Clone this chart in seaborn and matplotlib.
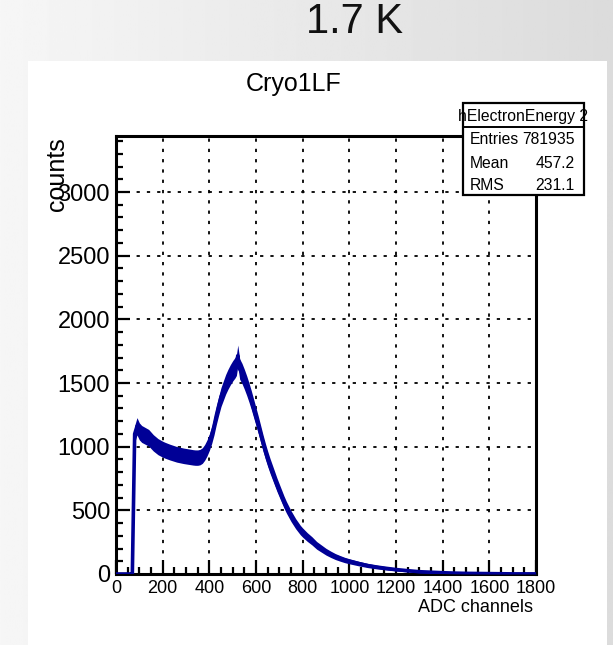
import numpy as np
import pandas as pd
import matplotlib
matplotlib.use("Agg")
import matplotlib.pyplot as plt
import matplotlib.patches as mpatches
from matplotlib.ticker import MultipleLocator
import seaborn as sns

# ADC spectrum of hElectronEnergy (Cryo1LF, 1.7 K)
adc = [0, 60, 70, 80, 90, 100, 110, 120, 130, 140, 150, 160, 170, 180, 190,
       200, 210, 220, 230, 240, 250, 260, 270, 280, 290, 300, 310, 320, 330,
       340, 350, 360, 370, 380, 390, 400, 410, 420, 430, 440, 450, 460, 470,
       480, 490, 500, 510, 516, 522, 530, 540, 550, 560, 570, 580, 590, 600,
       610, 620, 630, 640, 650, 660, 670, 680, 690, 700, 710, 720, 730, 740,
       750, 760, 770, 780, 790, 800, 820, 840, 860, 880, 900, 920, 940, 960,
       980, 1000, 1040, 1080, 1120, 1160, 1200, 1250, 1300, 1350, 1400, 1450,
       1500, 1550, 1600, 1650, 1700, 1750, 1800]
counts = [0, 0, 0, 1100, 1160, 1120, 1100, 1090, 1080, 1070, 1050, 1030, 1015,
          1000, 990, 980, 972, 965, 958, 952, 946, 940, 936, 932, 928, 925,
          922, 919, 916, 914, 914, 918, 930, 955, 990, 1035, 1090, 1160, 1245,
          1320, 1390, 1440, 1490, 1530, 1565, 1595, 1620, 1640, 1715, 1610,
          1575, 1530, 1480, 1425, 1365, 1300, 1235, 1170, 1100, 1030, 965, 905,
          850, 800, 750, 700, 655, 610, 565, 525, 490, 455, 425, 395, 370, 345,
          325, 290, 260, 225, 200, 175, 155, 137, 123, 110, 100, 82, 66, 54, 44,
          35, 26, 18, 14, 10, 7, 5, 4, 3, 2, 1, 1, 1]

x_ticks = [0, 200, 400, 600, 800, 1000, 1200, 1400, 1600, 1800]
y_ticks = [0, 500, 1000, 1500, 2000, 2500, 3000]

stats_name = "hElectronEnergy 2"
stats_rows = [("Entries", "781935"), ("Mean", "457.2"), ("RMS", "231.1")]

sns.set_style("white")
plt.rcParams["font.family"] = ["Liberation Sans", "DejaVu Sans"]
plt.rcParams["text.color"] = "black"
plt.rcParams["xtick.color"] = "black"
plt.rcParams["ytick.color"] = "black"

W, H = 613, 645
fig = plt.figure(figsize=(W / 100, H / 100), dpi=100)


def fx(px):
    return px / W


def fy(py):
    return 1 - py / H


# grey gradient backdrop
bg = fig.add_axes([0, 0, 1, 1], zorder=-3)
grad = np.linspace(0.965, 0.86, 256)[None, :]
bg.imshow(np.repeat(grad, 2, axis=0), cmap="gray", vmin=0, vmax=1,
          aspect="auto", extent=[0, 1, 0, 1])
bg.set_axis_off()

# white canvas
fig.add_artist(mpatches.Rectangle((fx(28), 0), fx(607) - fx(28), fy(61),
                                  transform=fig.transFigure, facecolor="white",
                                  edgecolor="none", zorder=-2))

ax = fig.add_axes([fx(116), fy(574), fx(536) - fx(116), fy(136) - fy(574)])
ax.set_facecolor("white")

df = pd.DataFrame({"adc": adc, "counts": counts})
c = np.array(counts, dtype=float)
blue = "#000096"
# statistical spread of the bin contents
spread = 2.0 * np.sqrt(c)
ax.fill_between(adc, c - spread, c + spread, color=blue, lw=0, zorder=3)
sns.lineplot(data=df, x="adc", y="counts", ax=ax, color=blue, lw=2.6,
             zorder=4)

ax.set_xlim(0, 1800)
ax.set_ylim(0, 3440)
ax.set_xticks(x_ticks)
ax.set_yticks(y_ticks)
ax.xaxis.set_minor_locator(MultipleLocator(50))
ax.yaxis.set_minor_locator(MultipleLocator(100))
ax.set_xlabel("")
ax.set_ylabel("")

ax.tick_params(which="both", direction="in", color="black", width=1.6,
               bottom=True, left=True, top=False, right=False,
               labelcolor="black")
ax.tick_params(which="major", length=10)
ax.tick_params(which="minor", length=5)
ax.tick_params(axis="x", labelsize=13, pad=4.3)
ax.tick_params(axis="y", labelsize=17, pad=4.3)
for s in ax.spines.values():
    s.set_color("black")
    s.set_linewidth(2.2)

ax.grid(True, which="major", color="black", linestyle=(0, (1.8, 3.9)),
        linewidth=1.3)
ax.set_axisbelow(True)

# titles
fig.text(fx(354), fy(22), "1.7 K", fontsize=30, ha="center", va="center",
         color="#111111")
fig.text(fx(294), fy(84), "Cryo1LF", fontsize=18, ha="center", va="center")
fig.text(fx(57), fy(137), "counts", fontsize=18, rotation=90, ha="center",
         va="top")
fig.text(fx(533), fy(607), "ADC channels", fontsize=13, ha="right",
         va="center")

# statistics box
bx0, bx1, by0, by1, ysep = 463, 584, 103, 195, 127
fig.add_artist(mpatches.Rectangle((fx(bx0), fy(by1)), fx(bx1) - fx(bx0),
                                  fy(by0) - fy(by1), transform=fig.transFigure,
                                  facecolor="white", edgecolor="black",
                                  linewidth=1.6, zorder=5))
fig.add_artist(plt.Line2D([fx(bx0), fx(bx1)], [fy(ysep), fy(ysep)],
                          transform=fig.transFigure, color="black",
                          linewidth=1.4, zorder=6))
fig.text(fx(458), fy(116), stats_name, fontsize=11.3, ha="left", va="center",
         zorder=6)
for i, (lab, val) in enumerate(stats_rows):
    yy = 140 + 23 * i
    fig.text(fx(470), fy(yy), lab, fontsize=11.3, ha="left", va="center",
             zorder=6)
    fig.text(fx(575), fy(yy), val, fontsize=11.3, ha="right", va="center",
             zorder=6)

fig.savefig("out.png", dpi=100)
